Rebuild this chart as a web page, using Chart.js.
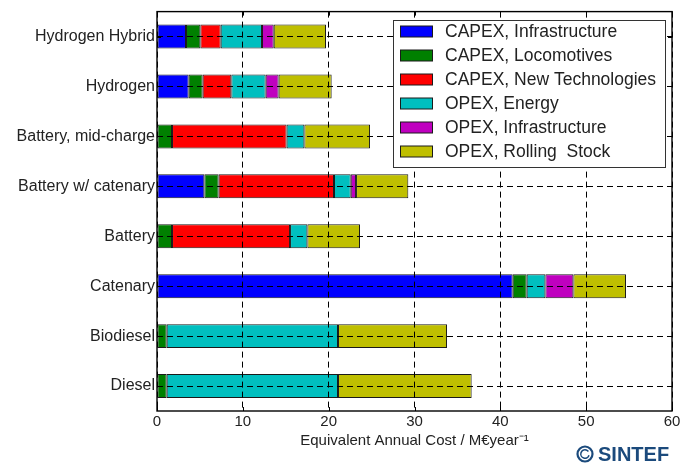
<!DOCTYPE html>
<html>
<head>
<meta charset="utf-8">
<script src="https://cdn.jsdelivr.net/npm/chart.js@4.4.1/dist/chart.umd.min.js"></script>
<style>
  html, body { margin: 0; padding: 0; background: #fff; }
  #wrap { position: relative; width: 686px; height: 464px; }
</style>
</head>
<body>
<div id="wrap"><canvas id="costChart" width="686" height="464"></canvas></div>
<script>
// === data (M€ / year) ===
const categories = ['Hydrogen Hybrid', 'Hydrogen', 'Battery, mid-charge', 'Battery w/ catenary',
  'Battery', 'Catenary', 'Biodiesel', 'Diesel'];

const capexInfrastructure = [3.38, 3.69, 0, 5.52, 0, 41.44, 0, 0];
const capexLocomotives    = [1.67, 1.63, 1.75, 1.66, 1.75, 1.63, 1.13, 1.13];
const capexNewTech        = [2.37, 3.34, 13.35, 13.44, 13.75, 0, 0, 0];
const opexEnergy          = [4.81, 4.00, 2.07, 1.95, 2.02, 2.18, 19.96, 19.96];
const opexInfrastructure  = [1.37, 1.51, 0, 0.62, 0, 3.26, 0, 0];
const opexRollingStock    = [6.09, 6.18, 7.65, 6.09, 6.13, 6.13, 12.70, 15.57];

const xTicks = [0, 10, 20, 30, 40, 50, 60];
const xTitle = 'Equivalent Annual Cost / M\u20ACyear\u207B\u00B9';

const series = [
  { label: 'CAPEX, Infrastructure',    data: capexInfrastructure, color: '#0000ff' },
  { label: 'CAPEX, Locomotives',       data: capexLocomotives,    color: '#008000' },
  { label: 'CAPEX, New Technologies',  data: capexNewTech,        color: '#ff0000' },
  { label: 'OPEX, Energy',             data: opexEnergy,          color: '#00bfbf' },
  { label: 'OPEX, Infrastructure',     data: opexInfrastructure,  color: '#bf00bf' },
  { label: 'OPEX, Rolling  Stock',     data: opexRollingStock,    color: '#bfbf00' }
];

const FONT = '"Liberation Sans", Arial, sans-serif';
const TEXT = '#222';

// frame, inward ticks, legend box and logo
const extras = {
  id: 'extras',
  afterDraw(chart) {
    const { ctx, chartArea: a, scales } = chart;
    ctx.save();

    // inward tick marks
    ctx.strokeStyle = '#000';
    ctx.lineWidth = 1;
    ctx.beginPath();
    xTicks.forEach(v => {
      const x = Math.round(scales.x.getPixelForValue(v)) + 0.5;
      ctx.moveTo(x, a.bottom); ctx.lineTo(x, a.bottom - 4);
      ctx.moveTo(x, a.top); ctx.lineTo(x, a.top + 4);
    });
    categories.forEach((c, i) => {
      const y = Math.round(scales.y.getPixelForValue(i)) + 0.5;
      ctx.moveTo(a.left, y); ctx.lineTo(a.left + 4, y);
      ctx.moveTo(a.right, y); ctx.lineTo(a.right - 4, y);
    });
    ctx.stroke();

    // plot frame
    ctx.lineWidth = 1.4;
    ctx.strokeRect(a.left, a.top, a.right - a.left, a.bottom - a.top);

    // legend inside the plot
    const lx = 393, ly = 20, lw = 272, lh = 147;
    ctx.fillStyle = '#fff';
    ctx.fillRect(lx, ly, lw, lh);
    ctx.lineWidth = 1;
    ctx.strokeStyle = '#333';
    ctx.strokeRect(lx + 0.5, ly + 0.5, lw, lh);
    ctx.font = '17.5px ' + FONT;
    ctx.textBaseline = 'middle';
    chart.data.datasets.forEach((ds, i) => {
      const y = 31.5 + i * 24;
      ctx.fillStyle = ds.backgroundColor;
      ctx.fillRect(400, y - 5.5, 32, 11);
      ctx.strokeStyle = '#1a1a1a';
      ctx.strokeRect(400.5, y - 5.5, 32, 11);
      ctx.fillStyle = TEXT;
      ctx.fillText(ds.label, 445, y + 1);
    });

    // SINTEF logo
    ctx.strokeStyle = '#1b4a7c';
    ctx.fillStyle = '#1b4a7c';
    ctx.lineWidth = 2.2;
    ctx.beginPath(); ctx.arc(585, 454, 7.5, 0, Math.PI * 2); ctx.stroke();
    ctx.lineWidth = 1.5;
    ctx.beginPath(); ctx.arc(585, 454, 4.2, 0.3, Math.PI * 1.8); ctx.stroke();
    ctx.font = 'bold 20px ' + FONT;
    ctx.textBaseline = 'alphabetic';
    ctx.fillText('SINTEF', 598, 461);

    ctx.restore();
  }
};

const datasets = series.map(s => ({
  label: s.label,
  data: s.data,
  backgroundColor: s.color,
  borderColor: '#1a1a1a',
  borderWidth: c => (c.raw ? 1 : 0),
  borderSkipped: false,
  barPercentage: 0.48,
  categoryPercentage: 1
}));

new Chart(document.getElementById('costChart').getContext('2d'), {
  type: 'bar',
  data: { labels: categories, datasets: datasets },
  options: {
    indexAxis: 'y',
    responsive: false,
    animation: false,
    layout: { padding: { left: 0, right: 14, top: 11, bottom: 0 } },
    plugins: { legend: { display: false }, tooltip: { enabled: false } },
    scales: {
      x: {
        stacked: true,
        min: 0, max: 60,
        afterFit: s => { s.height = 53; },
        afterBuildTicks: s => { s.ticks = xTicks.map(v => ({ value: v })); },
        grid: { color: '#000', lineWidth: 1, drawTicks: false, z: 1 },
        border: { display: false, dash: [6, 4] },
        ticks: { color: TEXT, font: { family: FONT, size: 15 }, padding: 2, z: 1 },
        title: {
          display: true, text: xTitle, color: TEXT,
          font: { family: FONT, size: 15 }, padding: { top: 0, bottom: 14 }
        }
      },
      y: {
        stacked: true,
        afterFit: s => { s.width = 157; },
        grid: { offset: false, color: '#000', lineWidth: 1, drawTicks: false, z: 1 },
        border: { display: false, dash: [6, 4] },
        ticks: { color: TEXT, font: { family: FONT, size: 16 }, padding: 2, z: 1 }
      }
    }
  },
  plugins: [extras]
});
</script>
</body>
</html>
